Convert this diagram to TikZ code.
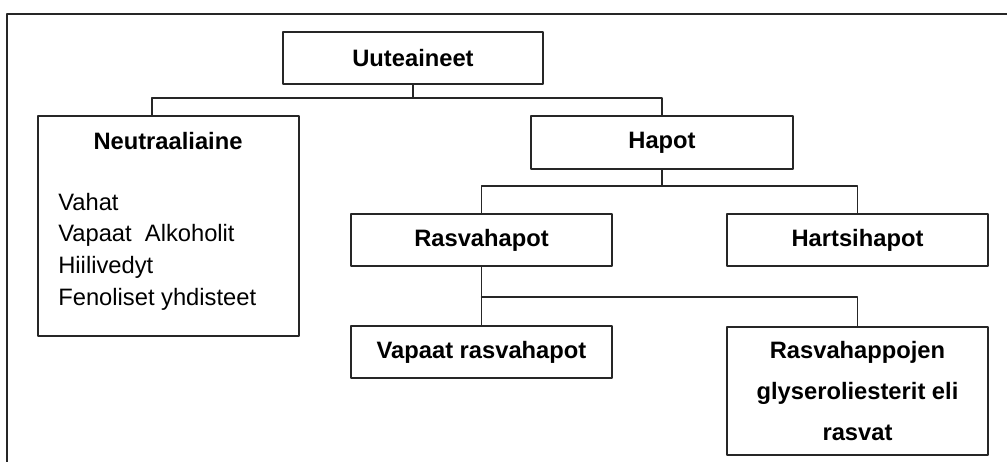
\documentclass[tikz,border=0pt]{standalone}
\usepackage{fontspec}
\setmainfont{Liberation Sans}
\begin{document}
\begin{tikzpicture}[font=\fontsize{13.5}{18}\selectfont, line join=round, line cap=round,
	box/.style={draw=black!85, line width=.85pt, minimum width=5.22cm, minimum height=1.04cm, inner sep=0pt, font=\fontsize{13.5}{18}\selectfont\bfseries},
	link/.style={draw=black!85, line width=.85pt}]
	\useasboundingbox (0,0) rectangle (20.14,9.24);
	\draw [link] (20.14,8.96)--(0.14,8.96)--(0.14,0); % khung ngoai
	\node [box, minimum width=5.2cm] (uute) at (8.26,8.08) {Uuteaineet};
	\node [box, minimum height=4.4cm] (neutral) at (3.37,4.72) {};
	\node [font=\fontsize{13.5}{18}\selectfont\bfseries] (neutit) at (3.36,6.42) {Neutraaliaine};
	\node [anchor=west, align=left, inner sep=0pt] (neulist) at (1.16,4.21) {Vahat\\Vapaat\ \ Alkoholit\\Hiilivedyt\\Fenoliset yhdisteet};
	\node [box, minimum width=5.24cm, minimum height=1.06cm] (hapot) at (13.24,6.39) {Hapot};
	\node [box] (rasva) at (9.63,4.44) {Rasvahapot};
	\node [box] (hartsi) at (17.15,4.44) {Hartsihapot};
	\node [box] (vapaat) at (9.63,2.20) {Vapaat rasvahapot};
	\node [box, minimum height=2.56cm, align=center, font=\fontsize{13.5}{23.2}\selectfont\bfseries] (glyser) at (17.15,1.42) {Rasvahappojen\\glyseroliesterit eli\\rasvat};
	% duong noi
	\coordinate (busA) at (3.04,7.28);
	\coordinate (busB) at (13.24,5.52);
	\coordinate (busC) at (9.63,3.30);
	\draw [link] (uute.south) |- (busA)--(busA |- neutral.north);
	\draw [link] (busA) -| (hapot.north);
	\draw [link] (hapot.south)--(busB);
	\draw [link] (rasva.north) |- (busB) -| (hartsi.north);
	\draw [link] (rasva.south)--(vapaat.north);
	\draw [link] (busC) -| (glyser.north);
\end{tikzpicture}
\end{document}
